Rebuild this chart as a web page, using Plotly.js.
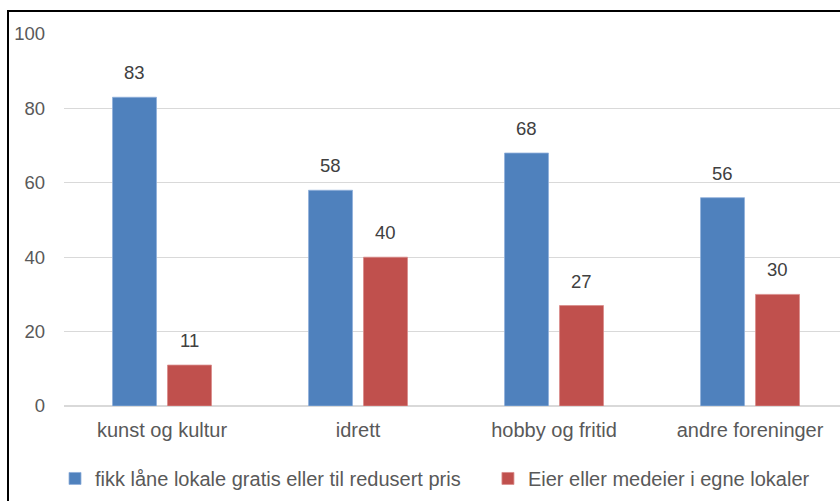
<!DOCTYPE html>
<html>
<head>
<meta charset="utf-8">
<script src="https://cdn.plot.ly/plotly-3.0.1.min.js"></script>
<style>
html,body{margin:0;padding:0;background:#fff;}
#wrap{position:relative;width:840px;height:501px;overflow:hidden;}
#chart{position:absolute;left:0;top:0;width:840px;height:501px;}
#frame{position:absolute;left:7px;top:10px;width:900px;height:600px;border-left:2px solid #000;border-top:2px solid #000;pointer-events:none;}
</style>
</head>
<body>
<div id="wrap"><div id="chart"></div><div id="frame"></div></div>
<script>
const categories = ["kunst og kultur", "idrett", "hobby og fritid", "andre foreninger"];
const seriesNames = ["fikk låne lokale gratis eller til redusert pris", "Eier eller medeier i egne lokaler"];
const lendValues = [83, 58, 68, 56];
const ownValues = [11, 40, 27, 30];
const yTicks = [0, 20, 40, 60, 80, 100];

const blue = "#4F81BD", red = "#C0504D";
const FONT = "Liberation Sans, Arial, sans-serif";
const PAD = "\u00a0\u00a0\u00a0\u00a0"; // extra spacing after first legend entry

const traces = [
  {type: "bar", name: seriesNames[0] + PAD, x: categories, y: lendValues,
   marker: {color: blue, line: {color: "#8FB0DA", width: 0.8}}, hoverinfo: "none"},
  {type: "bar", name: seriesNames[1], x: categories, y: ownValues,
   marker: {color: red, line: {color: "#D98C8A", width: 0.8}}, hoverinfo: "none"}
];

const annotations = [];
const seriesVals = [lendValues, ownValues];
seriesVals.forEach((vals, s) => {
  vals.forEach((v, i) => {
    annotations.push({
      x: categories[i], y: v, xref: "x", yref: "y",
      xshift: s === 0 ? -27.5 : 27.5, yshift: 12,
      text: String(v), showarrow: false, yanchor: "bottom",
      font: {family: FONT, size: 18.5, color: "#404040"}
    });
  });
});

const layout = {
  width: 840, height: 501,
  margin: {l: 64, r: 0, t: 34, b: 95},
  paper_bgcolor: "#fff", plot_bgcolor: "#fff",
  barmode: "group", bargap: 0.439, bargroupgap: 0.2,
  showlegend: true,
  legend: {orientation: "h", x: 55/840, xref: "container", xanchor: "left", y: 0.045, yref: "container", yanchor: "middle",
           font: {family: FONT, size: 20, color: "#595959"}, itemwidth: 30, traceorder: "normal"},
  xaxis: {range: [-0.5, 3.459], showgrid: false, showline: false, zeroline: false,
          ticks: "", ticklabelstandoff: 10,
          tickfont: {family: FONT, size: 20, color: "#595959"}},
  yaxis: {range: [0, 100], tickvals: yTicks, ticktext: yTicks.map(String),
          showgrid: true, gridcolor: "#D9D9D9", gridwidth: 1.3,
          zeroline: true, zerolinecolor: "#D9D9D9", zerolinewidth: 1.5,
          showline: false, ticks: "", ticklabelstandoff: 18,
          tickfont: {family: FONT, size: 18.5, color: "#595959"}},
  annotations: annotations
};

Plotly.newPlot("chart", traces, layout, {staticPlot: true, displayModeBar: false});
</script>
</body>
</html>
